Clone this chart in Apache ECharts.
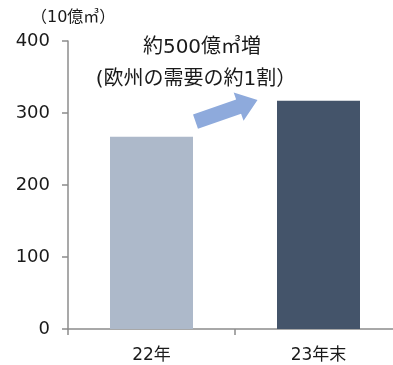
<!DOCTYPE html>
<html>
<head>
<meta charset="utf-8">
<script src="https://cdn.jsdelivr.net/npm/echarts@6/dist/echarts.min.js"></script>
<style>
  html, body { margin: 0; padding: 0; background: #fff; }
  #main { width: 393px; height: 365px; }
</style>
</head>
<body>
<div id="main"></div>
<script>
// データ
const categories = ['22年', '23年末'];
const values = [267, 317];
const barColors = ['#adb9ca', '#44546a'];
const yTicks = [0, 100, 200, 300, 400];
const unitLabel = '（10億㎥）';
const noteTitle = '約500億㎥増';
const noteSub = '(欧州の需要の約1割）';

const font = '"DejaVu Sans", "Noto Sans CJK JP", sans-serif';

const chartDom = document.getElementById('main');
const myChart = echarts.init(chartDom);

const option = {
  animation: false,
  grid: {
    left: 68,
    top: 41,
    bottom: 36,
    width: 334,
    outerBoundsMode: 'none',
    containLabel: false
  },
  xAxis: {
    type: 'category',
    data: categories,
    axisLine: { lineStyle: { color: '#8c8c8c', width: 1.5 } },
    axisTick: { show: true, length: 6, lineStyle: { color: '#8c8c8c', width: 1.5 } },
    axisLabel: { color: '#1a1a1a', fontSize: 17, fontFamily: font, margin: 18 }
  },
  yAxis: {
    type: 'value',
    min: yTicks[0],
    max: yTicks[yTicks.length - 1],
    interval: 100,
    axisLine: { show: true, lineStyle: { color: '#8c8c8c', width: 1.5 } },
    axisTick: { show: true, length: 6, lineStyle: { color: '#8c8c8c', width: 1.5 } },
    splitLine: { show: false },
    axisLabel: { color: '#1a1a1a', fontSize: 18, fontFamily: font, margin: 18 }
  },
  series: [
    {
      type: 'bar',
      barWidth: 83,
      data: values.map((v, i) => ({ value: v, itemStyle: { color: barColors[i] } }))
    }
  ],
  graphic: [
    {
      id: 'unit',
      type: 'text',
      x: 31,
      y: 18,
      style: { text: unitLabel, fill: '#1a1a1a', font: '16px ' + font, textVerticalAlign: 'middle' }
    },
    {
      id: 'title',
      type: 'text',
      x: 202,
      y: 48,
      style: { text: noteTitle, fill: '#1a1a1a', font: '20px ' + font, textAlign: 'center', textVerticalAlign: 'middle' }
    },
    {
      id: 'sub',
      type: 'text',
      x: 196,
      y: 80,
      style: { text: noteSub, fill: '#1a1a1a', font: '20px ' + font, textAlign: 'center', textVerticalAlign: 'middle' }
    }
  ]
};

myChart.setOption(option);

// 矢印: 棒の位置から算出
const p1 = myChart.convertToPixel({ seriesIndex: 0 }, [0, 288]);
const p2 = myChart.convertToPixel({ seriesIndex: 0 }, [1, 318]);
const tail = [p1[0] + 44, p1[1]];
const tip = [p2[0] - 61, p2[1]];
const dx = tip[0] - tail[0], dy = tip[1] - tail[1];
const len = Math.sqrt(dx * dx + dy * dy);
const headLen = 20, shaftHalf = 7.5, headHalf = 15;
const shape = [
  [0, -shaftHalf], [len - headLen, -shaftHalf], [len - headLen, -headHalf],
  [len, 0], [len - headLen, headHalf], [len - headLen, shaftHalf], [0, shaftHalf]
];
myChart.setOption({
  graphic: [
    {
      id: 'arrow',
      type: 'polygon',
      x: tail[0],
      y: tail[1],
      rotation: -Math.atan2(dy, dx),
      shape: { points: shape },
      style: { fill: '#8eaadc' }
    }
  ]
});

window.addEventListener('resize', () => {
  myChart.resize()
})
</script>
</body>
</html>
